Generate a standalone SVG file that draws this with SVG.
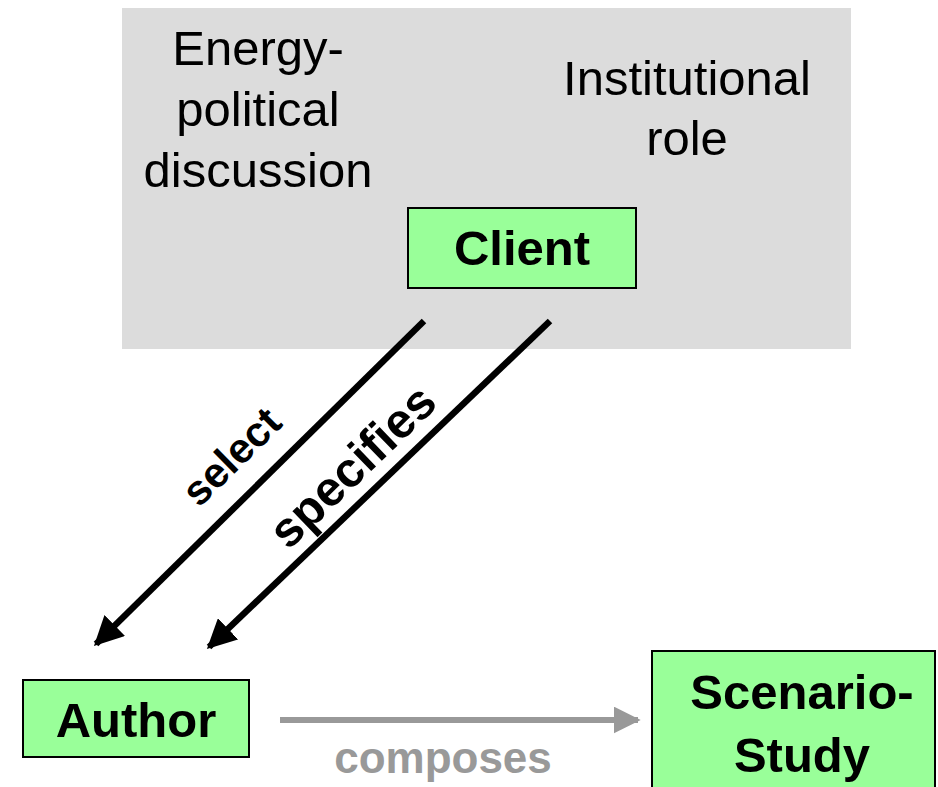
<svg xmlns="http://www.w3.org/2000/svg" width="938" height="787" viewBox="0 0 938 787">
<style>
.t{font-family:"Liberation Sans",Arial,sans-serif;font-size:49px;fill:#000;text-anchor:middle}
.b{font-weight:bold}
.node{fill:#99ff99;stroke:#000;stroke-width:2}
</style>
<defs>
<marker id="ah" viewBox="0 0 10 10" refX="9" refY="5" markerWidth="4.5" markerHeight="4.5" orient="auto" markerUnits="strokeWidth">
<path d="M0,0 L10,5 L0,10 z" fill="#000"/>
</marker>
<marker id="ahg" viewBox="0 0 10 10" refX="9" refY="5" markerWidth="4.5" markerHeight="4.5" orient="auto" markerUnits="strokeWidth">
<path d="M0,0 L10,5 L0,10 z" fill="#999"/>
</marker>
</defs>
<g id="context">
<rect x="122" y="8" width="729" height="341" fill="#dcdcdc"/>
<text class="t" x="258" y="65">Energy-</text>
<text class="t" x="258" y="126">political</text>
<text class="t" x="258" y="187">discussion</text>
<text class="t" x="687" y="95">Institutional</text>
<text class="t" x="687" y="155">role</text>
</g>
<g id="client">
<rect class="node" x="408" y="208" width="228" height="80"/>
<text class="t b" x="522" y="265">Client</text>
</g>
<g id="author">
<rect class="node" x="23" y="680" width="226" height="77"/>
<text class="t b" x="136" y="737">Author</text>
</g>
<g id="scenario">
<rect class="node" x="652" y="651" width="283" height="140"/>
<text class="t b" x="802" y="709">Scenario-</text>
<text class="t b" x="802" y="772">Study</text>
</g>
<g id="connectors">
<line x1="424" y1="321" x2="96" y2="644" stroke="#000" stroke-width="6.5" marker-end="url(#ah)"/>
<line x1="550" y1="321" x2="209" y2="647" stroke="#000" stroke-width="6.5" marker-end="url(#ah)"/>
<line x1="280" y1="720" x2="638" y2="720" stroke="#999" stroke-width="6" marker-end="url(#ahg)"/>
<text class="t b" transform="translate(231,456) rotate(-44.5)" dy="15" style="font-size:42px">select</text>
<text class="t b" transform="translate(352,466) rotate(-44)" dy="17" style="font-size:49px">specifies</text>
<text class="t b" x="443" y="773" style="font-size:44px;fill:#999">composes</text>
</g>
</svg>
